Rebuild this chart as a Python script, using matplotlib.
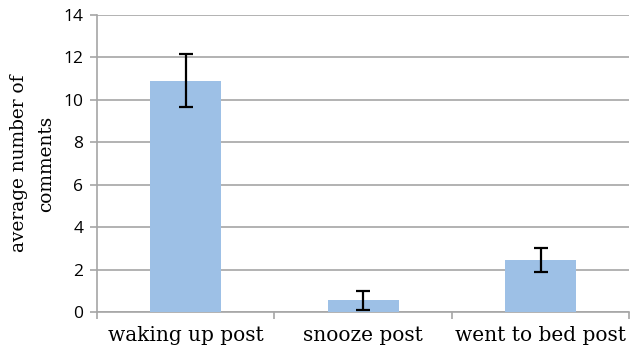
import matplotlib
matplotlib.use("Agg")
import matplotlib.pyplot as plt

categories = ["waking up post", "snooze post", "went to bed post"]
means = [10.9, 0.56, 2.45]
errors = [1.25, 0.45, 0.58]
yticks = [0, 2, 4, 6, 8, 10, 12, 14]

fig = plt.figure(figsize=(6.3, 3.53), dpi=100)
ax = fig.add_axes([0.154, 0.116, 0.845, 0.842])

x = range(len(categories))
ax.bar(x, means, width=0.4, color="#9dc0e6", zorder=3)
ax.errorbar(x, means, yerr=errors, fmt="none", ecolor="black",
            elinewidth=1.6, capsize=5, capthick=1.6, zorder=4)

ax.set_xlim(-0.5, 2.5)
ax.set_ylim(0, 14)
ax.set_yticks(yticks)
ax.yaxis.grid(True, color="#a6a6a6", linewidth=1.2, zorder=0)

ax.set_xticks(list(x))
ax.set_xticklabels(categories, family="DejaVu Serif", fontsize=14.5)
ax.set_xticks([-0.5, 0.5, 1.5, 2.5], minor=True)
ax.tick_params(axis="x", which="major", length=0, pad=10)
ax.tick_params(axis="x", which="minor", length=5, color="#a6a6a6", width=1.2)
ax.tick_params(axis="y", length=5, color="#a6a6a6", width=1.2, labelsize=12.5, pad=5)
for lbl in ax.get_yticklabels():
    lbl.set_family("Open Sans")

for side in ["top", "right"]:
    ax.spines[side].set_visible(False)
for side in ["left", "bottom"]:
    ax.spines[side].set_color("#a6a6a6")
    ax.spines[side].set_linewidth(1.2)

ax.set_ylabel("average number of\ncomments", family="DejaVu Serif",
              fontsize=13.3, linespacing=1.65, labelpad=6)

fig.savefig("out.png", dpi=100)
